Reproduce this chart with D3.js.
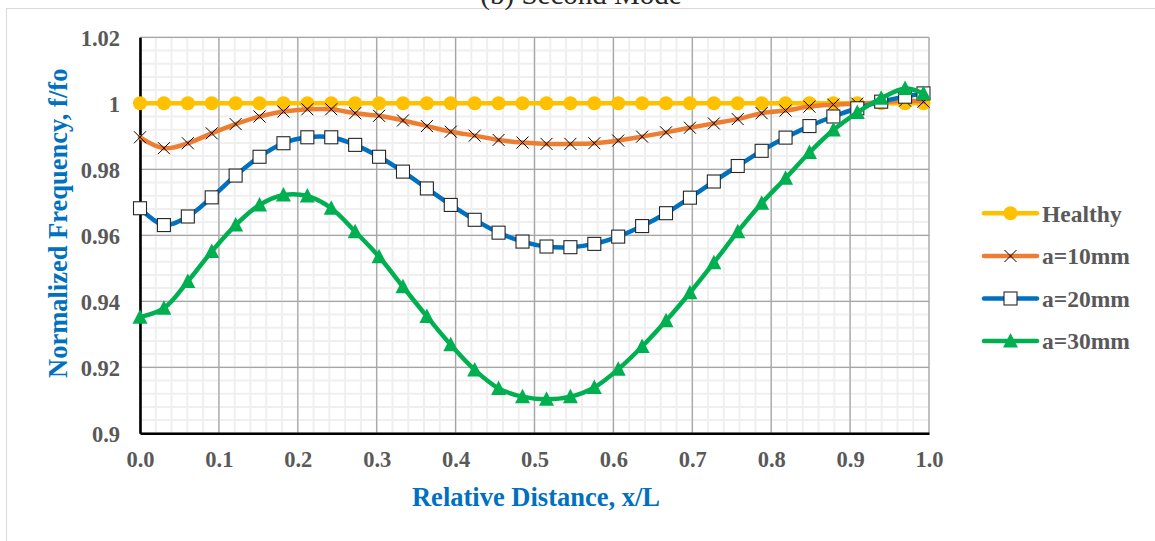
<!DOCTYPE html>
<html>
<head>
<meta charset="utf-8">
<script src="https://cdn.jsdelivr.net/npm/d3@7"></script>
<style>
  html, body { margin: 0; padding: 0; background: #fff; }
  svg { display: block; }
  text { font-family: "Liberation Serif", "Times New Roman", serif; }
</style>
</head>
<body>
<svg id="chart" width="1155" height="541"></svg>
<script>
// ---- Data ----
const xValues = [0,0.0303,0.0606,0.0909,0.1212,0.1515,0.1818,0.2121,0.2424,0.2727,0.3030,0.3333,0.3636,0.3939,0.4242,0.4545,0.4848,0.5152,0.5455,0.5758,0.6061,0.6364,0.6667,0.6970,0.7273,0.7576,0.7879,0.8182,0.8485,0.8788,0.9091,0.9394,0.9697,0.993];
const healthy = [1,1,1,1,1,1,1,1,1,1,1,1,1,1,1,1,1,1,1,1,1,1,1,1,1,1,1,1,1,1,1,1,1,1];
const a10 = [0.9897,0.9864,0.9879,0.9909,0.9937,0.9960,0.9975,0.9982,0.9982,0.9970,0.9962,0.9948,0.9931,0.9914,0.9902,0.9889,0.9881,0.9877,0.9877,0.9879,0.9887,0.9899,0.9912,0.9926,0.9939,0.9952,0.9970,0.9978,0.9990,0.9996,0.9999,1.0003,1.0008,1.0005];
const a20 = [0.9682,0.9631,0.9657,0.9715,0.9781,0.9838,0.9879,0.9897,0.9897,0.9874,0.9838,0.9793,0.9742,0.9692,0.9647,0.9608,0.9581,0.9566,0.9564,0.9574,0.9596,0.9628,0.9667,0.9714,0.9763,0.9810,0.9856,0.9896,0.9931,0.9960,0.9985,1.0005,1.0020,1.0030];
const a30 = [0.9352,0.9379,0.9460,0.9551,0.9631,0.9692,0.9722,0.9719,0.9682,0.9611,0.9535,0.9444,0.9354,0.9268,0.9192,0.9136,0.9111,0.9103,0.9111,0.9139,0.9194,0.9263,0.9341,0.9426,0.9517,0.9611,0.9697,0.9773,0.9851,0.9919,0.9972,1.0015,1.0045,1.0030];
const seriesNames = ["Healthy","a=10mm","a=20mm","a=30mm"];
const seriesColors = ["#FFC000","#ED7D31","#0070C0","#00B050"];
const xTicks = [0,0.1,0.2,0.3,0.4,0.5,0.6,0.7,0.8,0.9,1.0];
const yTicks = [0.9,0.92,0.94,0.96,0.98,1,1.02];
const yTickLabels = ["0.9","0.92","0.94","0.96","0.98","1","1.02"];

// ---- Layout ----
const svg = d3.select("#chart");
const L = 140, R = 929, T = 37.3, B = 433.3;
const x = d3.scaleLinear().domain([0,1]).range([L,R]);
const y = d3.scaleLinear().domain([0.9,1.02]).range([B,T]);

// outer chart border
svg.append("rect").attr("x",6.5).attr("y",8.5).attr("width",1200).attr("height",600)
  .attr("fill","#fff").attr("stroke","#d9d9d9").attr("stroke-width",1);

// title (clipped at top edge as in the reference)
svg.append("text").attr("x",581).attr("y",3.5).attr("text-anchor","middle")
  .attr("font-size",29).attr("fill","#262626").text("(b) Second Mode");

// minor gridlines
const gMinor = svg.append("g");
const xMinor = d3.range(0,51).map(i=>i*0.02);
const yMinor = d3.range(0,31).map(i=>0.9+i*0.004);
gMinor.selectAll("line.vx").data(xMinor).join("line")
  .attr("x1",d=>x(d)).attr("x2",d=>x(d)).attr("y1",T).attr("y2",B)
  .attr("stroke","#efefef").attr("stroke-width",2);
gMinor.selectAll("line.hy").data(yMinor).join("line")
  .attr("x1",L).attr("x2",R).attr("y1",d=>y(d)).attr("y2",d=>y(d))
  .attr("stroke","#efefef").attr("stroke-width",2);

// major gridlines
const gMajor = svg.append("g");
gMajor.selectAll("line.vx").data(xTicks).join("line")
  .attr("x1",d=>x(d)).attr("x2",d=>x(d)).attr("y1",T).attr("y2",B)
  .attr("stroke","#a6a6a6").attr("stroke-width",1.3);
gMajor.selectAll("line.hy").data(yTicks).join("line")
  .attr("x1",L).attr("x2",R).attr("y1",d=>y(d)).attr("y2",d=>y(d))
  .attr("stroke","#a6a6a6").attr("stroke-width",1.3);

// axes
const xAxis = d3.axisBottom(x).tickValues(xTicks).tickSize(0).tickPadding(18).tickFormat(d3.format(".1f"));
const yAxis = d3.axisLeft(y).tickValues(yTicks).tickSize(0).tickPadding(20).tickFormat((d,i)=>yTickLabels[i]);
const gx = svg.append("g").attr("transform",`translate(0,${B})`).call(xAxis);
const gy = svg.append("g").attr("transform",`translate(${L},0)`).call(yAxis);
[gx,gy].forEach(g=>{
  g.select(".domain").attr("stroke","#000").attr("stroke-width",2.6);
  g.selectAll("text").attr("font-family","Liberation Serif, serif").attr("font-weight","bold")
   .attr("font-size",22.5).attr("fill","#595959");
});
gx.selectAll("text").attr("dy","0.71em");
gy.selectAll("text").attr("dy","0.35em");

// axis titles
svg.append("text").attr("x",536).attr("y",506).attr("text-anchor","middle")
  .attr("font-size",26.5).attr("font-weight","bold").attr("fill","#0070C0").text("Relative Distance, x/L");
svg.append("text").attr("transform",`translate(67,${(T+B)/2-12}) rotate(-90)`).attr("text-anchor","middle")
  .attr("font-size",26.5).attr("font-weight","bold").attr("fill","#0070C0").text("Normalized Frequency, f/fo");

// series
const allSeries = [healthy,a10,a20,a30];
const line = d3.line().x((d,i)=>x(xValues[i])).y(d=>y(d)).curve(d3.curveCatmullRom.alpha(0.5));
const gPlot = svg.append("g");

function drawMarker(g, type, cx, cy, color){
  if(type===0){
    g.append("circle").attr("cx",cx).attr("cy",cy).attr("r",7).attr("fill",color);
  } else if(type===1){
    g.append("path").attr("d",`M${cx-6},${cy-6}L${cx+6},${cy+6}M${cx-6},${cy+6}L${cx+6},${cy-6}`)
      .attr("stroke","#000").attr("stroke-width",1).attr("fill","none");
  } else if(type===2){
    g.append("rect").attr("x",cx-6.5).attr("y",cy-6.5).attr("width",13).attr("height",13)
      .attr("fill","#fff").attr("stroke","#262626").attr("stroke-width",1.1);
  } else {
    g.append("path").attr("d",`M${cx},${cy-8}L${cx+7.5},${cy+6.5}L${cx-7.5},${cy+6.5}Z`).attr("fill",color);
  }
}

allSeries.forEach((s,k)=>{
  const g = gPlot.append("g");
  g.append("path").datum(s).attr("d",line).attr("fill","none")
    .attr("stroke",seriesColors[k]).attr("stroke-width",4.5).attr("stroke-linecap","round");
  s.forEach((v,i)=>drawMarker(g,k,x(xValues[i]),y(v),seriesColors[k]));
});

// legend
const legY = [213.3,256,298.5,341];
const gLeg = svg.append("g");
seriesNames.forEach((n,k)=>{
  const yy = legY[k];
  gLeg.append("line").attr("x1",984).attr("x2",1037).attr("y1",yy).attr("y2",yy)
    .attr("stroke",seriesColors[k]).attr("stroke-width",4.5).attr("stroke-linecap","round");
  drawMarker(gLeg,k,1010.5,yy,seriesColors[k]);
  gLeg.append("text").attr("x",1042).attr("y",yy).attr("dy","0.35em")
    .attr("font-size",23.5).attr("font-weight","bold").attr("fill","#595959").text(n);
});
</script>
</body>
</html>
